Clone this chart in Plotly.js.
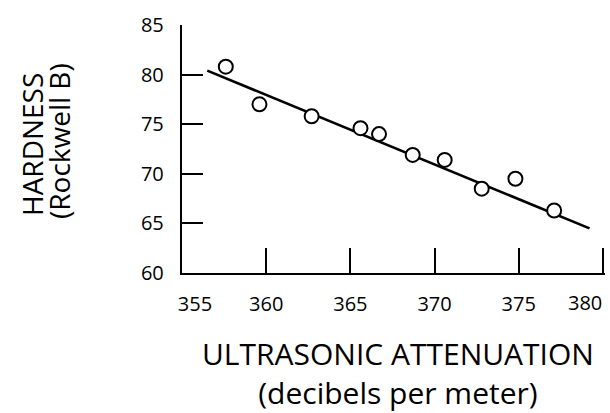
<!DOCTYPE html>
<html>
<head>
<meta charset="utf-8">
<script src="https://cdn.plot.ly/plotly-3.0.1.min.js"></script>
<style>html,body{margin:0;padding:0;background:#fff;}#chart{width:610px;height:413px;}</style>
</head>
<body>
<div id="chart"></div>
<script>
var attenuation = [357.6, 359.6, 362.7, 365.6, 366.7, 368.7, 370.6, 372.8, 374.8, 377.1];
var hardness    = [80.8, 77.0, 75.8, 74.6, 74.0, 71.9, 71.4, 68.5, 69.5, 66.3];
// Fitted line end points
var fitX = [356.5, 379.2];
var fitY = [80.4, 64.5];
// Tick labels
var xTicks = [355, 360, 365, 370, 375, 380];
var xTickLabels = ['355', '360', '365', '370', '375', '380'];
var yTicks = [60, 65, 70, 75, 80, 85];
var yTickText = ['60', '65', '70', '75', '80', '85'];
// Titles
var xTitle = 'ULTRASONIC ATTENUATION<br>(decibels per meter)';
var yTitle1 = 'HARDNESS';
var yTitle2 = '(Rockwell B)';

var fontFam = "Open Sans, sans-serif";
var last = xTicks.length - 1;
// the first label sits a little right of its tick; the last one is drawn as a right-aligned note
var xTickText = xTickLabels.map(function (t, i) {
  if (i === 0) return '\u00a0\u00a0\u00a0\u00a0\u00a0' + t;
  if (i === last) return '';
  return t;
});

var traces = [
  {x: fitX, y: fitY, mode: 'lines', type: 'scatter',
   line: {color: '#000', width: 2.6}, hoverinfo: 'skip', showlegend: false},
  {x: attenuation, y: hardness, mode: 'markers', type: 'scatter',
   marker: {symbol: 'circle', size: 14, color: '#fff', line: {color: '#000', width: 2}},
   showlegend: false}
];

function ann(text, x, y, xshift, yshift, angle, size) {
  return {text: text, xref: 'paper', yref: 'paper', x: x, y: y,
          xanchor: 'center', yanchor: 'middle', xshift: xshift, yshift: yshift,
          textangle: angle, showarrow: false, align: 'center',
          font: {family: fontFam, size: size, color: '#000'}};
}

var layout = {
  width: 610, height: 413,
  margin: {l: 182, r: 5, t: 25, b: 140},
  paper_bgcolor: '#fff', plot_bgcolor: '#fff',
  font: {family: fontFam, color: '#000', size: 20},
  showlegend: false,
  xaxis: {
    range: [355, 380.12], tickvals: xTicks, ticktext: xTickText,
    showgrid: false, zeroline: false, showline: true, linecolor: '#000', linewidth: 2.2,
    ticks: 'inside', ticklen: 25, tickwidth: 2, tickcolor: '#000',
    tickfont: {family: fontFam, size: 20, color: '#000'},
    ticklabelstandoff: 12
  },
  yaxis: {
    range: [60, 85], tickvals: yTicks, ticktext: yTickText,
    showgrid: false, zeroline: false, showline: true, linecolor: '#000', linewidth: 2.2,
    ticks: 'inside', ticklen: 21, tickwidth: 2, tickcolor: '#000',
    tickfont: {family: fontFam, size: 20, color: '#000'},
    ticklabelstandoff: 12
  },
  annotations: [
    {text: xTickLabels[last], xref: 'x', yref: 'paper', x: xTicks[last], y: 0,
     xanchor: 'right', yanchor: 'top', xshift: 1, yshift: -14, showarrow: false,
     font: {family: fontFam, size: 20, color: '#000'}},
    ann(xTitle, 0.5, 0, 4, -100, 0, 30),
    ann(yTitle1, 0, 0.5, -150, 4, -90, 28),
    ann(yTitle2, 0, 0.5, -123, 8, -90, 28)
  ]
};

Plotly.newPlot('chart', traces, layout, {displayModeBar: false, staticPlot: true});
</script>
</body>
</html>
